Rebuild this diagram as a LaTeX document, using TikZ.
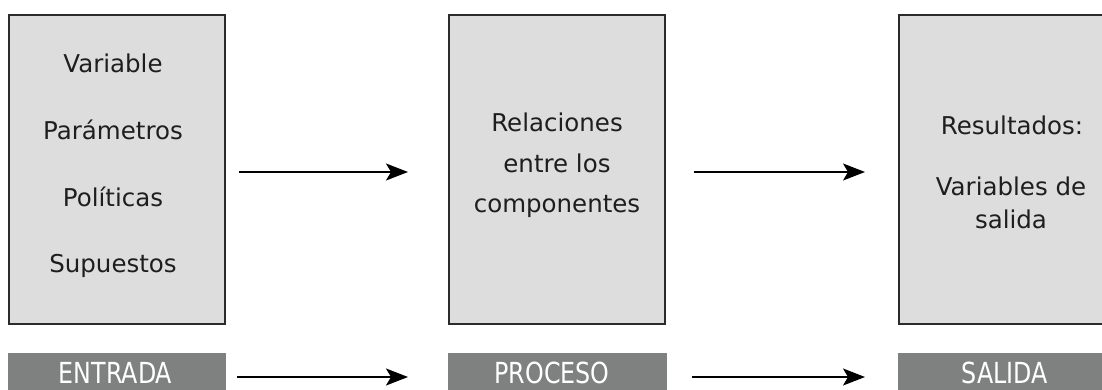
\documentclass[tikz,border=0pt]{standalone}
\usepackage{fontspec}
\setmainfont{DejaVu Sans}
\usetikzlibrary{arrows.meta}
\definecolor{boxfill}{HTML}{DCDDDC}
\definecolor{boxline}{HTML}{2B2B2B}
\definecolor{labfill}{HTML}{7F8080}
\definecolor{txt}{HTML}{1E1E1E}
\tikzset{
  bigbox/.style={draw=boxline, fill=boxfill, line width=1.6pt, anchor=north west, inner sep=0pt},
  labbox/.style={fill=labfill, anchor=north west, inner sep=0pt, minimum height=40pt},
  itemtxt/.style={anchor=base, inner sep=0pt, text=txt, font=\fontsize{24.5}{29}\selectfont},
  labtxt/.style={anchor=base, inner sep=0pt, text=white, font=\fontsize{29}{34}\selectfont},
  flow/.style={line width=1.4pt, -{Stealth[length=22pt, width=17pt, inset=5pt]}}
}
\newcommand{\labtext}[1]{\scalebox{0.82}[1]{#1}}
\begin{document}
\begin{tikzpicture}[x=1pt, y=-1pt]
\useasboundingbox (0,0) rectangle (1102,390);
\fill[white] (0,0) rectangle (1102,390);
% boxes
\node[bigbox, minimum width=216pt, minimum height=309pt] (b1) at (8,14) {};
\node[bigbox, minimum width=216pt, minimum height=309pt] (b2) at (448,14) {};
\node[bigbox, minimum width=216pt, minimum height=309pt] (b3) at (898,14) {};
% labels
\node[labbox, minimum width=218pt] (l1) at (8,353) {};
\node[labbox, minimum width=219pt] (l2) at (448,353) {};
\node[labbox, minimum width=220pt] (l3) at (898,353) {};
% box 1 texts
\node[itemtxt] (t11) at (113,73) {Variable};
\node[itemtxt] (t12) at (113,140) {Parámetros};
\node[itemtxt] (t13) at (113,206) {Políticas};
\node[itemtxt] (t14) at (113,272) {Supuestos};
% box 2 texts
\node[itemtxt] (t21) at (557,132) {Relaciones};
\node[itemtxt] (t22) at (557,172) {entre los};
\node[itemtxt] (t23) at (557,212) {componentes};
% box 3 texts
\node[itemtxt] (t31) at (1012,135) {Resultados:};
\node[itemtxt] (t32) at (1011,195) {Variables de};
\node[itemtxt] (t33) at (1011,228) {salida};
% label texts
\node[labtxt] (e1) at (115.5,383) {\labtext{ENTRADA}};
\node[labtxt] (e2) at (552,383) {\labtext{PROCESO}};
\node[labtxt] (e3) at (1005,383) {\labtext{SALIDA}};
% arrows
\coordinate (a1s) at ([xshift=13pt]b1.east |- 0,172);
\coordinate (a1e) at ([xshift=-40pt]b2.west |- 0,172);
\coordinate (a2s) at ([xshift=28pt]b2.east |- 0,172);
\coordinate (a2e) at ([xshift=-33pt]b3.west |- 0,172);
\draw[flow] (a1s) -- (a1e);
\draw[flow] (a2s) -- (a2e);
\coordinate (c1s) at ([xshift=11pt]l1.east |- 0,377);
\coordinate (c1e) at ([xshift=-40pt]l2.west |- 0,377);
\coordinate (c2s) at ([xshift=25pt]l2.east |- 0,377);
\coordinate (c2e) at ([xshift=-33pt]l3.west |- 0,377);
\draw[flow] (c1s) -- (c1e);
\draw[flow] (c2s) -- (c2e);
\end{tikzpicture}
\end{document}
